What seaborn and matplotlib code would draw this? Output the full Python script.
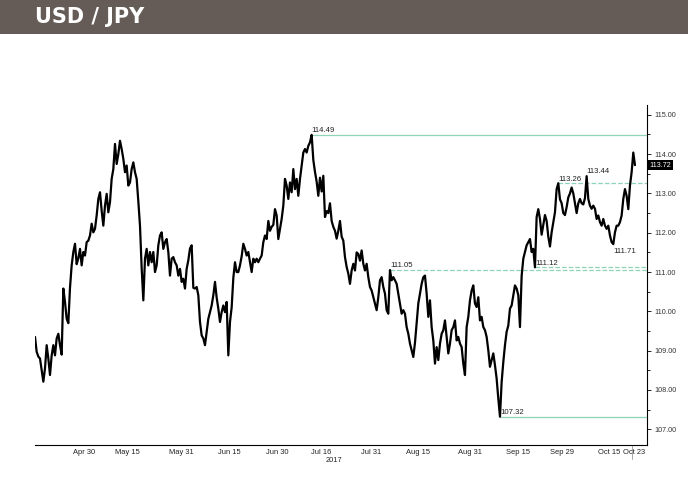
import numpy as np
import pandas as pd
import matplotlib
matplotlib.use("Agg")
import matplotlib.pyplot as plt
import matplotlib.transforms as mtransforms
from matplotlib.patches import Rectangle
from matplotlib.ticker import MultipleLocator, FormatStrFormatter
import seaborn as sns

sns.set_theme(style="white")
plt.rcParams["font.family"] = ["Liberation Sans", "DejaVu Sans"]

# ---- data (USD/JPY, ~2.64 samples per trading day) ----
apr_may = [109.35, 108.97, 108.85, 108.80, 108.50, 108.21, 108.55, 109.14, 108.80, 108.38,
           108.88, 109.14, 108.88, 109.31, 109.43, 109.14, 108.90, 110.58, 110.24, 109.81,
           109.70, 110.60, 111.17, 111.51, 111.72, 111.20, 111.35, 111.59, 111.17, 111.51,
           111.42, 111.76, 111.80, 111.93, 112.23, 112.01, 112.10, 112.44, 112.86, 113.03,
           112.56, 112.18, 112.69, 112.99, 112.52, 112.78, 113.37, 113.62, 114.26, 113.75,
           114.00, 114.34, 114.13, 113.88, 113.54, 113.71, 113.20, 113.28, 113.62, 113.79,
           113.54, 113.37, 112.80, 112.18, 111.10, 110.28, 111.34, 111.59, 111.17, 111.51,
           111.25, 111.51, 111.00, 111.17, 111.68, 111.93, 112.01, 111.59, 111.76, 111.84,
           111.51, 110.91, 111.34, 111.38, 111.25, 111.17, 110.91, 111.08, 110.75, 110.83,
           110.58, 111.08, 111.30]
jun_jul = [111.60, 111.68, 110.60, 110.58, 110.62, 110.41, 109.73, 109.39, 109.31, 109.14,
           109.48, 109.81, 109.98, 110.15, 110.41, 110.75, 110.35, 110.07, 109.73, 109.98,
           110.15, 109.98, 110.24, 108.88, 109.73, 110.10, 110.85, 111.25, 111.00, 111.00,
           111.17, 111.40, 111.72, 111.59, 111.42, 111.51, 111.25, 111.00, 111.34, 111.25,
           111.34, 111.25, 111.34, 111.42, 111.76, 111.93, 111.84, 112.30, 112.05, 112.15,
           112.20, 112.60, 112.44, 111.84, 112.10, 112.35, 112.69, 113.37, 113.20, 112.86,
           113.28, 113.03, 113.62, 113.11, 113.37, 112.94, 113.37, 113.71, 114.04, 114.13,
           114.04, 114.21, 114.30, 114.49, 113.85, 113.55, 113.30, 112.94, 113.40, 113.05,
           113.45, 112.40, 112.55, 112.50, 112.75, 112.30, 112.15, 112.05, 111.85, 112.05,
           112.30, 111.90, 111.80]
aug_sep = [111.38, 111.13, 110.96, 110.70, 111.04, 111.21, 111.04, 111.50, 111.46, 111.29,
           111.55, 111.21, 111.04, 111.21, 110.87, 110.62, 110.53, 110.36, 110.20, 110.03,
           110.36, 110.79, 110.87, 110.62, 110.45, 110.03, 109.94, 111.05, 110.79, 110.87,
           110.79, 110.70, 110.45, 110.20, 109.94, 110.03, 109.94, 109.60, 109.43, 109.18,
           109.01, 108.84, 109.20, 109.69, 110.20, 110.45, 110.70, 110.87, 110.91, 110.45,
           109.86, 110.28, 109.60, 109.26, 108.67, 109.09, 108.76, 109.18, 109.43, 109.52,
           109.77, 109.35, 108.93, 109.18, 109.52, 109.60, 109.77, 109.26, 109.35, 109.18,
           109.09, 108.67, 108.38, 109.60, 109.86, 110.28, 110.53, 110.66, 110.20, 110.11,
           110.36, 109.77, 109.86, 109.60, 109.52, 109.35, 109.01, 108.59, 108.76, 108.93]
sep_oct = [108.63, 108.29, 107.78, 107.32, 108.20, 108.71, 109.14, 109.48, 109.64, 110.07,
           110.15, 110.41, 110.66, 110.58, 110.41, 109.60, 110.90, 111.34, 111.51, 111.68,
           111.76, 111.84, 111.51, 111.59, 111.12, 112.40, 112.60, 112.35, 111.95, 112.20,
           112.45, 112.30, 111.90, 111.65, 112.01, 112.27, 112.52, 113.11, 113.26, 112.85,
           112.75, 112.50, 112.45, 112.65, 112.90, 113.00, 113.15, 113.00, 112.75, 112.50,
           112.75, 112.86, 112.75, 112.72, 112.88, 113.44, 112.86, 112.69, 112.61, 112.69,
           112.61, 112.35, 112.44, 112.27, 112.18, 112.35, 112.18, 112.10, 112.18, 111.93,
           111.76, 111.71, 112.01, 112.18, 112.18, 112.27, 112.44, 112.86, 113.11, 112.94,
           112.60, 113.20, 113.54, 114.04, 113.72]
samples_per_day = 2.64

# x-axis (trading days since start)
tick_labels = ["Apr 30", "May 15", "May 31", "Jun 15", "Jun 30", "Jul 16", "Jul 31",
               "Aug 15", "Aug 31", "Sep 15", "Sep 29", "Oct 15", "Oct 23"]
tick_label_days = [11.1, 21.1, 33.2, 44.1, 55.0, 65.0, 76.4, 87.0, 98.9, 109.8, 119.8, 130.6, 136.1]
separator_days = [5.2, 16.4, 27.3, 38.2, 49.3, 60.2, 71.1, 81.8, 92.7, 104.1, 114.8, 125.7]
year_label = "2017"

# reference levels
line_levels = [114.49, 111.05, 111.12, 113.26, 107.32]
line_styles = ["solid", "dashed", "dashed", "dashed", "solid"]
label_levels = [114.49, 111.05, 111.12, 113.26, 113.44, 111.71, 107.32]
label_below = [False, False, False, False, False, True, False]
last_price = 113.72

price = np.array(apr_may + jun_jul + aug_sep + sep_oct)
day = np.arange(len(price)) / samples_per_day
df = pd.DataFrame({"day": day, "price": price})

W, H = 688, 480
fig = plt.figure(figsize=(W / 100, H / 100), dpi=100)
fig.patches.append(Rectangle((0, 1 - 34 / H), 1, 34 / H, transform=fig.transFigure,
                             facecolor="#655c58", edgecolor="none", zorder=0))
fig.text(35 / W, 1 - 17 / H, "USD / JPY", color="white", fontsize=15, fontweight="bold",
         family=["DejaVu Sans"], ha="left", va="center")

ax = fig.add_axes([35 / W, 35 / H, 612 / W, 340 / H])
sns.lineplot(data=df, x="day", y="price", ax=ax, color="black", linewidth=1.6,
             estimator=None, sort=False, zorder=3)

ax.set_xlim(0, 139.1)
ax.set_ylim(106.6, 115.25)
ax.set_xlabel("")
ax.set_ylabel("")

for s in ["left", "top"]:
    ax.spines[s].set_visible(False)
for s in ["right", "bottom"]:
    ax.spines[s].set_color("black")
    ax.spines[s].set_linewidth(0.8)

ax.yaxis.tick_right()
ax.yaxis.set_major_locator(MultipleLocator(1))
ax.yaxis.set_minor_locator(MultipleLocator(0.5))
ax.yaxis.set_major_formatter(FormatStrFormatter("%.2f"))
ax.tick_params(axis="y", which="major", direction="out", length=3, width=0.6,
               labelsize=5.2, labelcolor="#333333", color="black", pad=2)
ax.tick_params(axis="y", which="minor", direction="out", length=2, width=0.6, color="black")

ax.set_xticks(tick_label_days)
ax.set_xticklabels(tick_labels)
ax.set_xticks(separator_days, minor=True)
ax.tick_params(axis="x", which="major", length=0, labelsize=5.4, labelcolor="#222222", pad=3)
ax.tick_params(axis="x", which="minor", direction="inout", length=4, width=0.6, color="#777777")

trans_xa = mtransforms.blended_transform_factory(ax.transData, ax.transAxes)
ax.text(tick_label_days[5] + 3, -0.036, year_label, transform=trans_xa, fontsize=5.4,
        color="#222222", ha="center", va="top")
ax.plot([tick_label_days[-1] - 0.3] * 2, [0, -0.04], transform=trans_xa, clip_on=False,
        color="#999999", lw=0.6)

xmax = ax.get_xlim()[1]
for lvl, ls in zip(line_levels, line_styles):
    i = int(np.where(np.isclose(price, lvl))[0][0])
    ax.hlines(lvl, day[i], xmax, colors="#8fd4b7", linestyles=ls, lw=0.9, zorder=2)

for lvl, below in zip(label_levels, label_below):
    i = int(np.where(np.isclose(price, lvl))[0][0])
    ax.annotate(f"{lvl:.2f}", (day[i], lvl), xytext=(0, -3 if below else 0.5),
                textcoords="offset points", fontsize=5.6, color="#222222",
                ha="left", va="top" if below else "bottom", zorder=4)

trans_ay = mtransforms.blended_transform_factory(ax.transAxes, ax.transData)
ax.text(1.004, last_price, f"{last_price:.2f}", transform=trans_ay, color="white",
        fontsize=5.2, ha="left", va="center",
        bbox=dict(boxstyle="square,pad=0.2", fc="black", ec="none"), zorder=5)

fig.savefig("out.png", dpi=100)
